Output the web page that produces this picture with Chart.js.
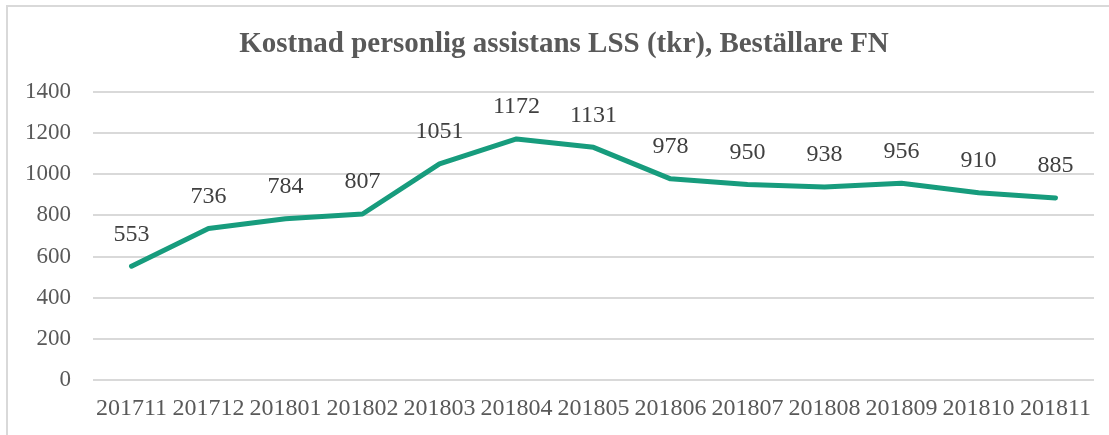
<!DOCTYPE html>
<html>
<head>
<meta charset="utf-8">
<script src="https://cdn.jsdelivr.net/npm/chart.js@4.4.1/dist/chart.umd.min.js"></script>
<style>
  body { margin: 0; background: #fff; }
  #frame { position: absolute; left: 6px; top: 5px; width: 1120px; height: 450px; border: 2px solid #d9d9d9; box-sizing: border-box; }
  #wrap { position: absolute; left: 0; top: 0; width: 1109px; height: 435px; }
</style>
</head>
<body>
<div id="frame"></div>
<div id="wrap"><canvas id="costChart"></canvas></div>
<script>
const chartTitle = 'Kostnad personlig assistans LSS (tkr), Beställare FN';
const months = ['201711', '201712', '201801', '201802', '201803', '201804', '201805',
  '201806', '201807', '201808', '201809', '201810', '201811'];
const costs = [553, 736, 784, 807, 1051, 1172, 1131, 978, 950, 938, 956, 910, 885];
const yTicks = [0, 200, 400, 600, 800, 1000, 1200, 1400];

// title centred on the frame, plus the value above each point
const valueLabels = {
  id: 'valueLabels',
  afterDatasetsDraw(chart) {
    const ctx = chart.ctx;
    const meta = chart.getDatasetMeta(0);
    ctx.save();
    ctx.textAlign = 'center';
    ctx.textBaseline = 'middle';
    ctx.font = 'bold 29px "Liberation Serif"';
    ctx.fillStyle = '#595959';
    ctx.fillText(chartTitle, 564, 45);
    ctx.font = '24px "Liberation Serif"';
    ctx.fillStyle = '#404040';
    meta.data.forEach((pt, i) => {
      ctx.fillText(costs[i], pt.x, pt.y - 32);
    });
    ctx.restore();
  }
};

const ctx = document.getElementById('costChart').getContext('2d');
new Chart(ctx, {
  type: 'line',
  data: {
    labels: months,
    datasets: [{
      data: costs,
      borderColor: '#179c7d',
      borderWidth: 5,
      pointRadius: 0,
      borderCapStyle: 'round',
      borderJoinStyle: 'round',
      tension: 0
    }]
  },
  options: {
    responsive: true,
    maintainAspectRatio: false,
    animation: false,
    layout: { padding: { left: 0, right: 15, top: 92, bottom: 8 } },
    plugins: {
      legend: { display: false },
      tooltip: { enabled: false },
      title: { display: false }
    },
    scales: {
      x: {
        offset: true,
        grid: { display: false },
        border: { display: false },
        ticks: {
          color: '#595959',
          font: { family: 'Liberation Serif', size: 24 },
          maxRotation: 0,
          autoSkip: false,
          padding: 6
        },
        afterFit(scale) { scale.height = 47; }
      },
      y: {
        min: 0,
        max: 1400,
        afterBuildTicks(scale) { scale.ticks = yTicks.map(v => ({ value: v })); },
        grid: { color: '#d9d9d9', lineWidth: 2, drawTicks: false },
        border: { display: false },
        ticks: {
          color: '#595959',
          font: { family: 'Liberation Serif', size: 23 },
          padding: 22,
          callback: v => String(v)
        },
        afterFit(scale) { scale.width = 93; }
      }
    }
  },
  plugins: [valueLabels]
});
</script>
</body>
</html>
